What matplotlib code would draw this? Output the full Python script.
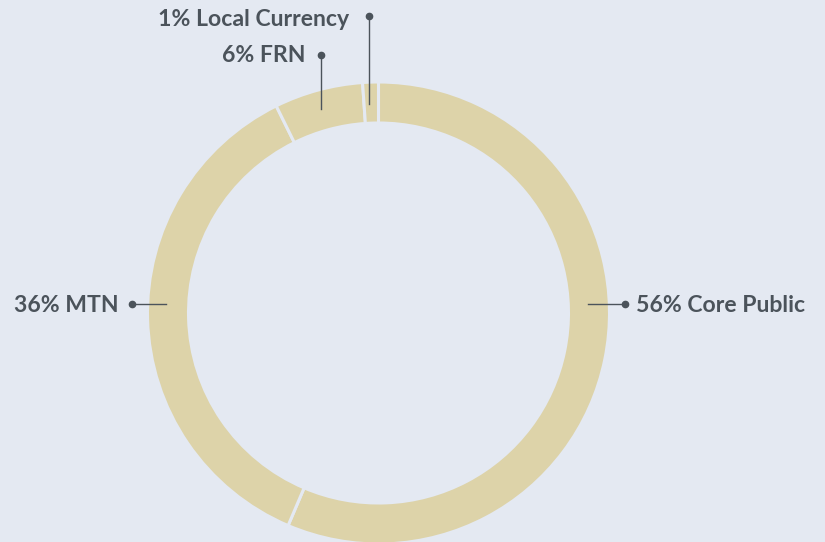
import matplotlib
matplotlib.use("Agg")
import matplotlib.pyplot as plt

categories = ["Core Public", "MTN", "FRN", "Local Currency"]
values = [56.4, 36.3, 6.2, 1.1]
labels = ["56% Core Public", "36% MTN", "6% FRN", "1% Local Currency"]

W, H = 825, 542
bg = "#e4e9f2"
ring = "#ddd3a9"
txt = "#4b535b"

fig = plt.figure(figsize=(W / 100, H / 100), dpi=100, facecolor=bg)
ax = fig.add_axes([0, 0, 1, 1])
ax.set_facecolor(bg)

cx, cy, R, w = 378.5, H - 313, 231, 41
ax.pie(values, startangle=90, counterclock=False, radius=R, center=(cx, cy),
       colors=[ring] * len(values),
       wedgeprops=dict(width=w, edgecolor=bg, linewidth=2.2))
ax.set_xlim(0, W)
ax.set_ylim(0, H)
ax.set_aspect("auto")
ax.axis("off")

def Y(py):
    return H - py

fp = dict(fontsize=16.6, fontweight="bold", color=txt, family="Lato", va="center")
lp = dict(color=txt, lw=1.0)
# Core Public
ax.plot([588, 625], [Y(304), Y(304)], **lp)
ax.plot(625, Y(304), "o", ms=4.5, color=txt)
ax.text(636, Y(306), labels[0], ha="left", **fp)
# MTN
ax.plot([132, 166], [Y(304), Y(304)], **lp)
ax.plot(132, Y(304), "o", ms=4.5, color=txt)
ax.text(119, Y(306), labels[1], ha="right", **fp)
# FRN
ax.plot([321, 321], [Y(55), Y(109)], **lp)
ax.plot(321, Y(55), "o", ms=4.5, color=txt)
ax.text(306, Y(56), labels[2], ha="right", **fp)
# Local Currency
ax.plot([369, 369], [Y(16), Y(104)], **lp)
ax.plot(369, Y(16), "o", ms=4.5, color=txt)
ax.text(349, Y(20), labels[3], ha="right", **fp)

fig.savefig("out.png", dpi=100, facecolor=bg)
